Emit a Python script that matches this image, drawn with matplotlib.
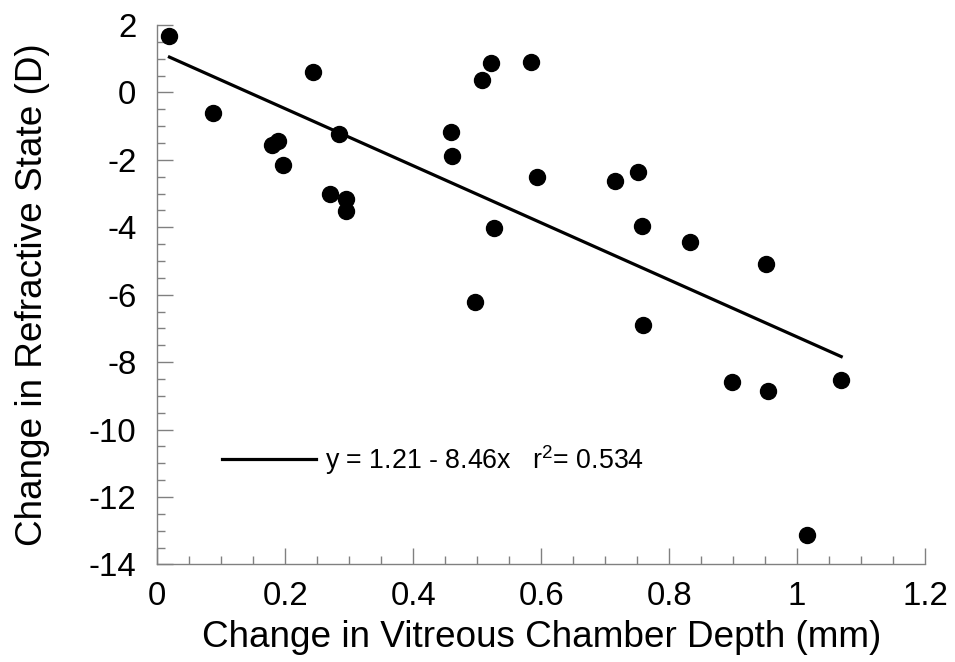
import matplotlib
matplotlib.use("Agg")
import matplotlib.pyplot as plt
from matplotlib.ticker import MultipleLocator
import numpy as np

plt.rcParams['font.family'] = ['Liberation Sans', 'DejaVu Sans']
plt.rcParams['mathtext.fontset'] = 'custom'
plt.rcParams['mathtext.rm'] = 'Liberation Sans'
plt.rcParams['mathtext.it'] = 'Liberation Sans'
plt.rcParams['axes.unicode_minus'] = False

# change in vitreous chamber depth (mm) vs change in refractive state (D)
vcd = np.array([0.019, 0.0875, 0.180, 0.188, 0.197, 0.243, 0.284, 0.270,
                0.295, 0.295, 0.459, 0.461, 0.507, 0.521, 0.584, 0.593,
                0.716, 0.752, 0.527, 0.497, 0.758, 0.833, 0.951, 0.759,
                0.898, 0.954, 1.069, 1.016])
refr = np.array([1.68, -0.60, -1.56, -1.43, -2.15, 0.60, -1.24, -3.02,
                 -3.16, -3.52, -1.17, -1.89, 0.36, 0.88, 0.91, -2.51,
                 -2.62, -2.37, -4.03, -6.22, -3.96, -4.44, -5.08, -6.89,
                 -8.58, -8.86, -8.52, -13.12])

intercept = 1.21
slope = -8.46
r2 = 0.534

fig = plt.figure(figsize=(9.55, 6.62), dpi=100)
ax = fig.add_axes([0.1647, 0.1473, 0.8039, 0.8149])

x_fit = np.array([vcd.min(), vcd.max()])
ax.plot(x_fit, intercept + slope * x_fit, color='black', lw=2.3,
        label=f"y = {intercept:.2f} - {abs(slope):.2f}x   r$^{{2}}$= {r2:.3f}")
ax.plot(vcd, refr, 'o', color='black', ms=11.5, zorder=3)

ax.set_xlim(0, 1.2)
ax.set_ylim(-14, 2)
ax.set_xticks(np.arange(0, 1.21, 0.2))
ax.set_xticklabels(['0', '0.2', '0.4', '0.6', '0.8', '1', '1.2'])
ax.xaxis.set_minor_locator(MultipleLocator(0.05))
ax.yaxis.set_major_locator(MultipleLocator(2))
ax.yaxis.set_minor_locator(MultipleLocator(0.5))

for s in ['top', 'right']:
    ax.spines[s].set_visible(False)
for s in ['left', 'bottom']:
    ax.spines[s].set_color('#808080')
    ax.spines[s].set_linewidth(1.0)

ax.tick_params(which='major', direction='in', length=11.5, width=1.0,
               color='#808080', labelsize=23.8)
ax.tick_params(which='minor', direction='in', length=5.8, width=1.0,
               color='#808080')
ax.tick_params(axis='x', pad=12)
ax.tick_params(axis='y', pad=15)

ax.set_xlabel("Change in Vitreous Chamber Depth (mm)", fontsize=26.6, labelpad=6)
ax.set_ylabel("Change in Refractive State (D)", fontsize=26.6, labelpad=28)

ax.legend(loc='center left', bbox_to_anchor=(0.084, 0.194), frameon=False,
          fontsize=19.3, handlelength=3.5, handletextpad=0.35, borderpad=0,
          borderaxespad=0)

fig.savefig("out.png", dpi=100)
